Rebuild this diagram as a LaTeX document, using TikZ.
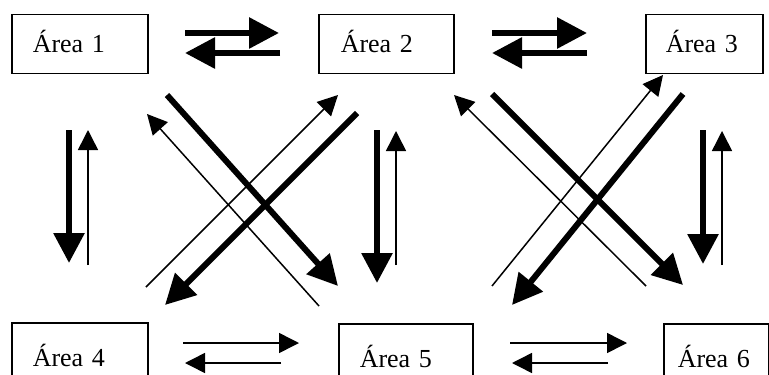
\documentclass[tikz,border=0pt]{standalone}
\usepackage{fontspec}
\setmainfont{Liberation Serif}
\usetikzlibrary{arrows.meta}

\tikzset{
	area/.style={draw, line width=0.75pt, anchor=north west, inner ysep=0pt,
		align=left, text height=10pt, text depth=1.5pt,
		font=\fontsize{13}{15}\selectfont},
	thickarr/.style={line width=3pt, -{Triangle[length=15pt,width=15pt]}},
	thinarr/.style={line width=0.75pt, -{Triangle[length=10pt,width=10pt]}},
}

\begin{document}
\begin{tikzpicture}[x=0.5pt, y=-0.5pt]
	
	\useasboundingbox (0,0) rectangle (769,374);
	
	\node [area, inner xsep=10.5pt, text width=47pt, minimum height=29.5pt] (A1) at (11,14) {Área 1};
	\node [area, inner xsep=11pt, text width=45.5pt, minimum height=29.5pt] (A2) at (318,14) {Área 2};
	\node [area, inner xsep=10pt, text width=38.5pt, minimum height=29.5pt] (A3) at (645,14) {Área 3};
	\node [area, inner xsep=10.5pt, text width=47pt, minimum height=35pt] (A4) at (11,322) {Área 4};
	\node [area, inner xsep=10.5pt, text width=46pt, minimum height=35pt] (A5) at (338,323) {Área 5};
	\node [area, inner xsep=7pt, text width=38.5pt, minimum height=35pt] (A6) at (663,323) {Área 6};
	
	% horizontal, top
	\coordinate (a12s) at (185,33);  \coordinate (a12e) at (279,33);
	\coordinate (a21s) at (280,53);  \coordinate (a21e) at (185,53);
	\coordinate (a23s) at (492,33);  \coordinate (a23e) at (587,33);
	\coordinate (a32s) at (587,53);  \coordinate (a32e) at (492,53);
	% horizontal, bottom
	\coordinate (a45s) at (183,343); \coordinate (a45e) at (299,343);
	\coordinate (a54s) at (281,363); \coordinate (a54e) at (185,363);
	\coordinate (a56s) at (510,343); \coordinate (a56e) at (627,343);
	\coordinate (a65s) at (608,363); \coordinate (a65e) at (512,363);
	% vertical
	\coordinate (a14s) at (69,130);  \coordinate (a14e) at (69,263);
	\coordinate (a41s) at (88,265);  \coordinate (a41e) at (88,130);
	\coordinate (a25s) at (377,130); \coordinate (a25e) at (377,283);
	\coordinate (a52s) at (396,265); \coordinate (a52e) at (396,131);
	\coordinate (a36s) at (703,130); \coordinate (a36e) at (703,264);
	\coordinate (a63s) at (722,265); \coordinate (a63e) at (722,131);
	% diagonal
	\coordinate (a15s) at (167,95);  \coordinate (a15e) at (338,286);
	\coordinate (a51s) at (319,306); \coordinate (a51e) at (147,114);
	\coordinate (a42s) at (146,287); \coordinate (a42e) at (338,95);
	\coordinate (a24s) at (357,113); \coordinate (a24e) at (165,305);
	\coordinate (a62s) at (646,286); \coordinate (a62e) at (454,95);
	\coordinate (a26s) at (492,94);  \coordinate (a26e) at (683,285);
	\coordinate (a53s) at (492,286); \coordinate (a53e) at (663,75);
	\coordinate (a35s) at (683,94);  \coordinate (a35e) at (512,305);
	
	\draw[thickarr] (a12s) -- (a12e);
	\draw[thickarr] (a21s) -- (a21e);
	\draw[thickarr] (a23s) -- (a23e);
	\draw[thickarr] (a32s) -- (a32e);
	
	\draw[thinarr] (a45s) -- (a45e);
	\draw[thinarr] (a54s) -- (a54e);
	\draw[thinarr] (a56s) -- (a56e);
	\draw[thinarr] (a65s) -- (a65e);
	
	\draw[thickarr] (a14s) -- (a14e);
	\draw[thinarr] (a41s) -- (a41e);
	\draw[thickarr] (a25s) -- (a25e);
	\draw[thinarr] (a52s) -- (a52e);
	\draw[thickarr] (a36s) -- (a36e);
	\draw[thinarr] (a63s) -- (a63e);
	
	\draw[thickarr] (a15s) -- (a15e);
	\draw[thinarr] (a51s) -- (a51e);
	\draw[thinarr] (a42s) -- (a42e);
	\draw[thickarr] (a24s) -- (a24e);
	\draw[thinarr] (a62s) -- (a62e);
	\draw[thickarr] (a26s) -- (a26e);
	\draw[thinarr] (a53s) -- (a53e);
	\draw[thickarr] (a35s) -- (a35e);
	
\end{tikzpicture}
\end{document}
